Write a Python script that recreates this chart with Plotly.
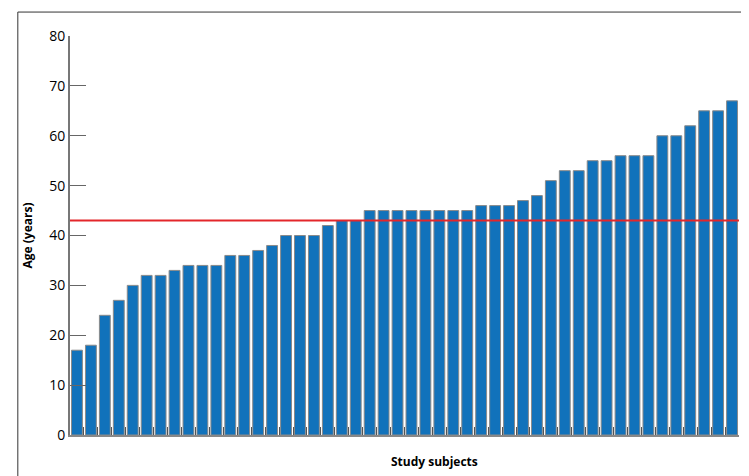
import plotly.graph_objects as go

ages = [17, 18, 24, 27, 30, 32, 32, 33, 34, 34, 34, 36, 36, 37, 38, 40, 40, 40, 42, 43,
        43, 45, 45, 45, 45, 45, 45, 45, 45, 46, 46, 46, 47, 48, 51, 53, 53, 55, 55, 56,
        56, 56, 60, 60, 62, 65, 65, 67]
mean_age = 43
subjects = list(range(1, len(ages) + 1))

fig = go.Figure()
fig.add_trace(go.Bar(x=subjects, y=ages, marker_color="#1172bb",
                     marker_line_color="#8a8a8a", marker_line_width=1, width=0.78))
fig.add_hline(y=mean_age, line_color="#e3262b", line_width=2)

fig.update_layout(
    width=749, height=476, showlegend=False,
    paper_bgcolor="white", plot_bgcolor="white",
    margin=dict(l=62, r=18, t=28, b=49),
    font=dict(family="Open Sans", size=14, color="black"),
)
fig.update_xaxes(range=[0.5, len(ages) + 0.5], showticklabels=False, ticks="inside",
                 tickvals=[s + 0.5 for s in subjects], ticklen=8, tickcolor="#555",
                 showline=True, linecolor="#888", linewidth=2)
fig.update_yaxes(range=[0, 80], dtick=10, ticks="inside", ticklen=16, tickcolor="#666",
                 showgrid=False, showline=True, linecolor="#777", linewidth=2, zeroline=False,
                 title=dict(text="<b>Age (years)</b>", standoff=14, font=dict(size=12)))
fig.add_annotation(text="<b>Study subjects</b>", xref="paper", yref="paper", x=0.545, y=-0.04,
                   yanchor="top", showarrow=False, font=dict(size=12))
fig.add_shape(type="line", xref="paper", yref="paper", x0=-0.078, x1=1.03, y0=1.06, y1=1.06,
              line=dict(color="#333", width=1))
fig.add_shape(type="line", xref="paper", yref="paper", x0=-0.078, x1=-0.078, y0=-0.2, y1=1.06,
              line=dict(color="#333", width=1))

fig.write_html("out.html")
